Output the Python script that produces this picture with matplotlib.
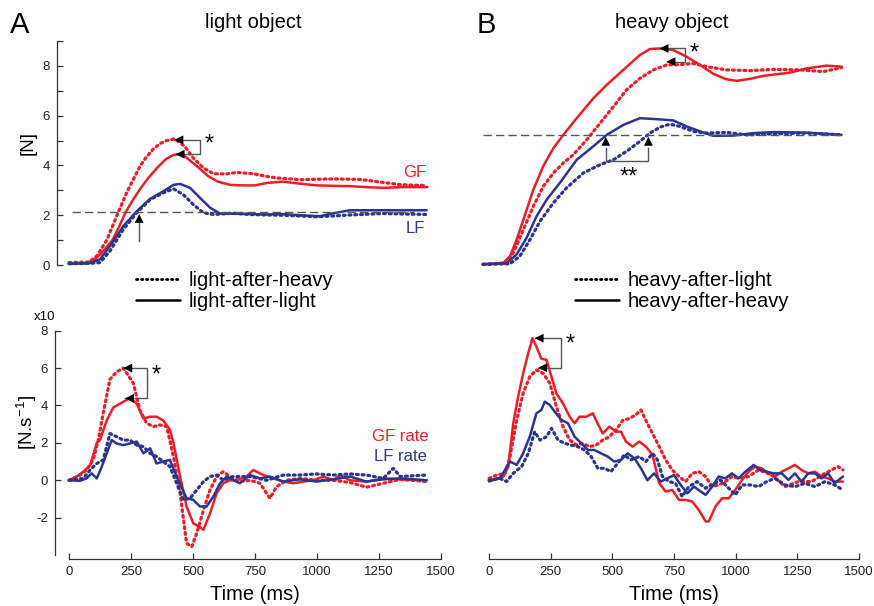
import matplotlib
matplotlib.use("Agg")
import matplotlib.pyplot as plt
from matplotlib.lines import Line2D

plt.rcParams['font.family'] = ['Liberation Sans', 'DejaVu Sans']
plt.rcParams['axes.unicode_minus'] = False

RED = '#EE1D25'
BLUE = '#2A3592'
GREY = '#555555'

# ---- A, top: forces [N] (light object) ----
tA_gf_ll = [0, 70, 100, 125, 150, 175, 200, 230, 260, 290, 320, 355, 390, 420, 440, 470, 500, 530,
            560, 600, 650, 700, 750, 800, 860, 930, 1000, 1070, 1130, 1200, 1270, 1340, 1445]
A_gf_ll = [0.07, 0.08, 0.2, 0.42, 0.7, 1.0, 1.5, 2.15, 2.65, 3.1, 3.5, 3.9, 4.25, 4.42, 4.45, 4.35,
           4.1, 3.85, 3.58, 3.35, 3.22, 3.2, 3.2, 3.3, 3.35, 3.27, 3.2, 3.18, 3.17, 3.13, 3.1, 3.13, 3.13]
tA_gf_lh = [0, 80, 112, 152, 192, 232, 260, 286, 313, 340, 367, 394, 421, 445, 470, 501, 542, 582,
            636, 676, 743, 797, 837, 931, 1066, 1173, 1267, 1335, 1442]
A_gf_lh = [0.1, 0.12, 0.36, 1.0, 1.96, 2.9, 3.45, 3.97, 4.35, 4.66, 4.88, 5.0, 5.06, 4.95, 4.72,
           4.3, 3.9, 3.67, 3.66, 3.72, 3.67, 3.56, 3.5, 3.43, 3.46, 3.44, 3.32, 3.23, 3.19]
tA_lf_ll = [0, 80, 125, 165, 219, 273, 327, 380, 421, 448, 488, 528, 569, 609, 663, 730, 797, 864,
            931, 1012, 1050, 1132, 1200, 1267, 1350, 1442]
A_lf_ll = [0.05, 0.07, 0.23, 0.76, 1.56, 2.16, 2.66, 2.96, 3.22, 3.26, 3.1, 2.7, 2.3, 2.07, 2.06,
           2.05, 2.03, 2.05, 2.0, 1.96, 2.05, 2.2, 2.2, 2.2, 2.2, 2.2]
tA_lf_lh = [0, 90, 125, 165, 219, 273, 327, 380, 421, 461, 501, 542, 582, 663, 730, 797, 864, 931,
            998, 1066, 1132, 1200, 1267, 1350, 1442]
A_lf_lh = [0.05, 0.07, 0.1, 0.56, 1.43, 2.1, 2.63, 2.9, 3.06, 2.83, 2.43, 2.1, 2.03, 2.08, 2.03,
           2.01, 2.0, 1.97, 1.94, 1.97, 2.01, 2.04, 2.07, 2.05, 2.03]
A_lf_level = 2.15

# ---- B, top: forces [N] (heavy object) ----
tB_gf_hh = [0, 82, 109, 136, 163, 203, 243, 284, 324, 378, 445, 499, 566, 633, 673, 714, 767, 821,
            875, 929, 982, 1023, 1077, 1130, 1238, 1305, 1386, 1446]
B_gf_hh = [0.03, 0.09, 0.36, 1.03, 1.83, 3.03, 3.97, 4.7, 5.23, 5.9, 6.7, 7.24, 7.84, 8.44, 8.68,
           8.7, 8.64, 8.37, 8.04, 7.68, 7.46, 7.4, 7.48, 7.6, 7.73, 7.9, 8.01, 7.97]
tB_gf_hl = [0, 95, 122, 163, 203, 243, 284, 324, 364, 418, 472, 526, 579, 633, 687, 741, 794, 848,
            902, 982, 1077, 1171, 1278, 1372, 1446]
B_gf_hl = [0.03, 0.08, 0.49, 1.43, 2.36, 3.16, 3.7, 4.1, 4.43, 5.03, 5.7, 6.37, 7.04, 7.5, 7.84,
           8.04, 8.05, 8.1, 7.97, 7.84, 7.81, 7.86, 7.84, 7.77, 7.93]
tB_lf_hh = [0, 95, 136, 176, 216, 257, 310, 378, 445, 499, 566, 633, 700, 767, 821, 875, 929, 1009,
            1090, 1171, 1305, 1446]
B_lf_hh = [0.03, 0.06, 0.43, 1.1, 1.96, 2.63, 3.3, 4.23, 4.77, 5.23, 5.63, 5.9, 5.86, 5.81, 5.57,
           5.37, 5.19, 5.2, 5.3, 5.34, 5.32, 5.23]
tB_lf_hl = [0, 109, 149, 190, 230, 284, 337, 405, 472, 526, 579, 633, 673, 714, 754, 794, 848, 902,
            982, 1063, 1171, 1305, 1446]
B_lf_hl = [0.03, 0.05, 0.36, 1.03, 1.76, 2.5, 3.1, 3.7, 4.03, 4.23, 4.57, 4.97, 5.3, 5.54, 5.66,
           5.57, 5.37, 5.3, 5.33, 5.23, 5.27, 5.3, 5.23]
B_lf_level = 5.23

# ---- A, bottom: force rates [N/s x10] ----
tA_gfr_ll = [0, 31, 58, 85, 112, 125, 152, 179, 206, 246, 273, 300, 327, 353, 380, 407, 421, 448,
             474, 501, 528, 542, 569, 595, 622, 649, 676, 716, 743, 783, 824, 864, 905, 945, 985,
             1026, 1066, 1093, 1133, 1200, 1267, 1335, 1442]
A_gfr_ll = [0, 0.2, 0.46, 0.8, 2.0, 2.15, 3.2, 3.9, 4.1, 4.4, 4.1, 3.3, 3.4, 3.4, 3.2, 2.7, 2.0,
            0.2, -1.4, -2.3, -2.5, -2.65, -1.76, -0.7, -0.16, 0, 0, 0.2, 0.55, 0.28, 0.1, -0.07,
            -0.16, -0.07, 0, 0.2, 0, 0.28, 0, -0.07, 0.1, 0.05, 0]
tA_gfr_lh = [0, 44, 71, 98, 118, 138, 165, 192, 219, 239, 259, 286, 313, 340, 367, 394, 421, 448,
             474, 495, 515, 542, 569, 595, 622, 649, 689, 730, 770, 810, 837, 878, 931, 998, 1066,
             1133, 1200, 1267, 1335, 1442]
A_gfr_lh = [0, 0.28, 0.55, 1.1, 2.15, 3.6, 5.4, 5.8, 6.0, 5.6, 5.2, 3.76, 3.05, 2.87, 2.96, 2.87,
            1.27, -0.7, -3.37, -3.55, -2.83, -1.6, -0.5, 0.2, 0.46, 0.2, -0.07, 0, -0.16, -0.96,
            -0.34, 0, 0.1, 0, 0, -0.12, -0.37, -0.16, 0.05, -0.07]
tA_lfr_ll = [0, 44, 71, 91, 112, 132, 152, 172, 192, 219, 246, 273, 300, 327, 353, 380, 407, 434,
             474, 501, 528, 555, 582, 609, 636, 663, 689, 730, 770, 810, 864, 931, 998, 1066, 1133,
             1200, 1267, 1335, 1442]
A_lfr_ll = [0, -0.03, 0.1, 0.37, 0.1, 0.73, 1.44, 2.15, 1.97, 1.88, 1.97, 2.07, 1.44, 1.71, 0.9,
            1.0, 1.09, 0.2, -0.96, -1.05, -1.4, -1.4, -0.87, -0.16, 0.2, 0, -0.16, 0.28, 0.1, 0.2,
            -0.07, 0.05, -0.07, 0.05, 0.2, -0.07, 0.05, 0.1, 0]
tA_lfr_lh = [0, 58, 85, 112, 138, 165, 192, 219, 246, 273, 300, 327, 353, 380, 407, 434, 461, 488,
             515, 542, 569, 595, 622, 663, 730, 797, 864, 931, 998, 1066, 1133, 1200, 1267, 1308,
             1335, 1442]
A_lfr_lh = [0, 0.1, 0.55, 0.9, 1.09, 2.5, 2.33, 2.15, 2.15, 1.88, 1.8, 1.44, 1.27, 1.0, 0.73,
            -0.16, -1.05, -0.96, -0.52, -0.07, 0.2, 0.28, 0, 0.2, 0.2, 0, 0.28, 0.28, 0.34, 0.28,
            0.34, 0.28, 0.1, 0.64, 0.2, 0.28]

# ---- B, bottom: force rates [N/s x10] ----
tB_gfr_hh = [0, 58, 78, 98, 118, 138, 159, 176, 192, 212, 233, 253, 273, 300, 327, 347, 367, 394,
             421, 434, 461, 488, 515, 535, 555, 582, 609, 636, 663, 690, 716, 743, 770, 797, 824,
             851, 878, 891, 918, 945, 972, 999, 1026, 1052, 1079, 1106, 1132, 1160, 1187, 1214,
             1240, 1267, 1294, 1321, 1348, 1375, 1401, 1435]
B_gfr_hh = [-0.07, 0.2, 0.73, 3.05, 4.47, 5.7, 6.8, 7.6, 7.15, 6.5, 6.44, 5.54, 4.65, 4.1, 3.4,
            3.05, 3.4, 3.4, 3.58, 3.2, 2.5, 2.87, 2.6, 2.6, 2.07, 1.8, 2.07, 1.8, 1.35, -0.16, -0.6,
            -0.52, -1.05, -1.05, -1.14, -1.6, -2.2, -2.2, -1.4, -0.96, -0.96, -0.5, 0.02, 0.46,
            0.73, 0.64, 0.37, 0.2, 0.46, 0.64, 0.82, 0.55, 0.37, 0.46, 0.2, 0.1, -0.07, -0.07]
tB_gfr_hl = [0, 31, 65, 85, 112, 138, 165, 192, 219, 246, 273, 300, 327, 353, 380, 407, 434, 461,
             488, 515, 542, 568, 595, 616, 636, 663, 690, 716, 743, 770, 797, 824, 851, 878, 905,
             931, 958, 985, 1012, 1052, 1093, 1147, 1200, 1254, 1308, 1362, 1415, 1435]
B_gfr_hl = [0.1, 0.28, 0.37, 1.27, 3.2, 4.65, 5.54, 5.9, 5.72, 5.2, 3.94, 2.87, 2.15, 1.9, 1.97,
            1.8, 1.88, 2.15, 2.33, 2.7, 3.2, 3.3, 3.5, 3.76, 3.2, 2.5, 1.8, 1.09, 0.55, 0.2, -0.07,
            0.37, 0.46, 0.2, -0.34, -0.25, -0.07, 0.2, 0.1, 0.2, 0.55, 0.28, -0.34, -0.07, -0.07,
            0.37, 0.73, 0.55]
tB_lfr_hh = [0, 44, 85, 112, 138, 165, 192, 212, 226, 246, 266, 293, 320, 347, 374, 401, 427, 454,
             481, 508, 535, 562, 589, 616, 642, 669, 696, 723, 750, 777, 804, 831, 858, 878, 905,
             931, 958, 985, 1012, 1039, 1073, 1099, 1126, 1153, 1187, 1214, 1240, 1267, 1294, 1321,
             1348, 1375, 1401, 1435]
B_lfr_hh = [0, 0.1, 1.0, 0.82, 1.44, 2.33, 3.58, 3.76, 4.2, 4.03, 3.67, 3.23, 3.05, 2.33, 1.98,
            1.62, 1.62, 1.44, 1.27, 1.0, 1.09, 1.44, 1.18, 0.64, 0, 0.37, -0.07, 0.1, 0.28, -0.25,
            -0.7, -0.34, -0.6, -0.78, -0.34, 0.2, 0.1, 0.37, 0.1, 0.46, 0.82, 0.55, 0.46, 0.37,
            0.37, 0.02, 0.37, -0.07, 0.37, 0.37, 0.1, 0.37, -0.16, 0.2]
tB_lfr_hl = [0, 44, 71, 98, 132, 159, 185, 206, 233, 253, 280, 306, 333, 360, 387, 414, 441, 468,
             494, 521, 548, 575, 609, 636, 663, 683, 703, 730, 756, 783, 810, 844, 878, 905, 938,
             972, 999, 1026, 1059, 1093, 1126, 1160, 1200, 1240, 1281, 1321, 1362, 1401, 1435]
B_lfr_hl = [0, 0.1, -0.07, 0.37, 0.73, 1.44, 2.6, 2.15, 2.33, 2.78, 2.15, 1.98, 1.88, 1.8, 1.62,
            1.27, 0.64, 0.64, 0.46, 0.9, 1.35, 1.09, 1.27, 1.0, 1.44, 1.09, 0.2, -0.07, -0.16,
            -0.87, -0.34, -0.07, -0.43, -0.25, 0.02, -0.43, -0.78, -0.25, -0.25, -0.34, -0.07, 0.1,
            -0.25, -0.34, -0.16, -0.34, -0.07, -0.25, -0.52]

W, H = 874, 606
fig = plt.figure(figsize=(W / 100, H / 100), dpi=100)


def box(l, t, r, b):
    return [l / W, 1 - b / H, (r - l) / W, (b - t) / H]


def px(x, y):
    return x / W, 1 - y / H


axA1 = fig.add_axes(box(57, 41, 441, 272.5))
axB1 = fig.add_axes(box(471, 41, 855, 272.5))
axA2 = fig.add_axes(box(55, 330.7, 441, 558.8))
axB2 = fig.add_axes(box(475, 330.7, 859, 558.8))

for ax in (axA1, axB1):
    ax.set_xlim(-48.4, 1500)
    ax.set_ylim(-0.3, 9)
axA2.set_xlim(-56.5, 1500)
axB2.set_xlim(-57, 1500)
for ax in (axA2, axB2):
    ax.set_ylim(-4.2, 8)

for ax in (axA1, axB1, axA2, axB2):
    ax.patch.set_visible(False)
    for s in ('top', 'right'):
        ax.spines[s].set_visible(False)
    for s in ax.spines.values():
        s.set_color('#333333')
        s.set_linewidth(0.9)
    ax.tick_params(direction='in', length=4, width=0.9, color='#333333',
                   labelsize=9.5, labelcolor='#222222', pad=5)

# top axes: y only on A
axA1.spines['bottom'].set_visible(False)
axA1.set_xticks([])
axA1.spines['left'].set_bounds(0, 9)
axA1.set_yticks(range(0, 10))
axA1.set_yticklabels([str(v) if v % 2 == 0 and v < 9 else '' for v in range(0, 10)])
axB1.axis('off')

for ax in (axA2, axB2):
    ax.spines['bottom'].set_bounds(0, 1500)
    ax.set_xticks(range(0, 1501, 250))
axA2.spines['left'].set_bounds(-4, 8)
axA2.set_yticks([-2, 0, 2, 4, 6, 8])
axB2.spines['left'].set_visible(False)
axB2.set_yticks([])

solid = dict(lw=1.8, solid_capstyle='round')
dotted = dict(lw=2.3, linestyle=(0, (0.6, 1.2)), dash_capstyle='round')

axA1.plot(tA_gf_lh, A_gf_lh, color=RED, **dotted)
axA1.plot(tA_gf_ll, A_gf_ll, color=RED, **solid)
axA1.plot(tA_lf_lh, A_lf_lh, color=BLUE, **dotted)
axA1.plot(tA_lf_ll, A_lf_ll, color=BLUE, **solid)
axA1.axhline(A_lf_level, xmin=0.04, xmax=0.93, color=GREY, lw=1, linestyle=(0, (6, 3)))

axB1.plot(tB_gf_hl, B_gf_hl, color=RED, **dotted)
axB1.plot(tB_gf_hh, B_gf_hh, color=RED, **solid)
axB1.plot(tB_lf_hl, B_lf_hl, color=BLUE, **dotted)
axB1.plot(tB_lf_hh, B_lf_hh, color=BLUE, **solid)
axB1.axhline(B_lf_level, xmin=0.03, xmax=0.965, color=GREY, lw=1, linestyle=(0, (6, 3)))

axA2.plot(tA_gfr_lh, A_gfr_lh, color=RED, **dotted)
axA2.plot(tA_gfr_ll, A_gfr_ll, color=RED, **solid)
axA2.plot(tA_lfr_lh, A_lfr_lh, color=BLUE, **dotted)
axA2.plot(tA_lfr_ll, A_lfr_ll, color=BLUE, **solid)

axB2.plot(tB_gfr_hl, B_gfr_hl, color=RED, **dotted)
axB2.plot(tB_gfr_hh, B_gfr_hh, color=RED, **solid)
axB2.plot(tB_lfr_hl, B_lfr_hl, color=BLUE, **dotted)
axB2.plot(tB_lfr_hh, B_lfr_hh, color=BLUE, **solid)

arrow = dict(arrowstyle='-|>', color='black', lw=0, mutation_scale=16, shrinkA=0, shrinkB=0)


def left_bracket(ax, xb, y1, x1, y2, x2, star_x, star_y, star='*'):
    ax.plot([x1, xb, xb, x2], [y1, y1, y2, y2], color=GREY, lw=1)
    ax.annotate('', xy=(x1, y1), xytext=(x1 + 60, y1), arrowprops=arrow)
    ax.annotate('', xy=(x2, y2), xytext=(x2 + 60, y2), arrowprops=arrow)
    ax.text(star_x, star_y, star, fontsize=17, ha='center', va='center')


left_bracket(axA1, 528, 5.03, 425, 4.45, 430, 566, 4.85)
left_bracket(axB1, 815, 8.7, 712, 8.17, 740, 852, 8.5)
left_bracket(axA2, 313, 6.0, 219, 4.38, 226, 353, 5.6)
left_bracket(axB2, 293, 7.6, 185, 6.02, 199, 330, 7.25)

# upward arrows marking LF crossing of the load level
axA1.plot([283, 283], [0.95, 1.7], color=GREY, lw=1)
axA1.annotate('', xy=(283, 2.05), xytext=(283, 1.6), arrowprops=arrow)
axB1.plot([495, 495, 667, 667], [4.7, 4.17, 4.17, 4.7], color=GREY, lw=1)
axB1.annotate('', xy=(495, 5.15), xytext=(495, 4.7), arrowprops=arrow)
axB1.annotate('', xy=(667, 5.15), xytext=(667, 4.7), arrowprops=arrow)
axB1.text(586, 3.5, '**', fontsize=17, ha='center', va='center')

axA1.text(1395, 3.7, 'GF', color=RED, fontsize=12, ha='center', va='center')
axA1.text(1395, 1.45, 'LF', color=BLUE, fontsize=12, ha='center', va='center')
axA2.text(1335, 2.33, 'GF rate', color=RED, fontsize=12, ha='center', va='center')
axA2.text(1335, 1.27, 'LF rate', color=BLUE, fontsize=12, ha='center', va='center')

fig.text(*px(253, 23), 'light object', fontsize=14.5, ha='center', va='center')
fig.text(*px(672, 23), 'heavy object', fontsize=14.5, ha='center', va='center')
fig.text(*px(20, 25), 'A', fontsize=21, ha='center', va='center')
fig.text(*px(486, 25), 'B', fontsize=21, ha='center', va='center')
fig.text(*px(28, 143), '[N]', fontsize=13.5, rotation=90, ha='center', va='center')
fig.text(*px(27, 423), '[N.s$^{\\mathregular{-1}}$]', fontsize=13.5, rotation=90,
         ha='center', va='center')
fig.text(*px(45, 317), 'x10', fontsize=9.5, ha='center', va='center')
fig.text(*px(255, 595), 'Time (ms)', fontsize=14.5, ha='center', va='center')
fig.text(*px(674, 595), 'Time (ms)', fontsize=14.5, ha='center', va='center')

h_dot = Line2D([], [], color='black', lw=2.0, linestyle=(0, (0.5, 1.3)), dash_capstyle='round')
h_sol = Line2D([], [], color='black', **solid)
leg_kw = dict(loc='center left', frameon=False, fontsize=14.5, handlelength=2.2,
              handletextpad=0.4, labelspacing=0.08, borderpad=0, borderaxespad=0)
fig.legend([h_dot, h_sol], ['light-after-heavy', 'light-after-light'],
           bbox_to_anchor=px(136, 291), **leg_kw)
fig.legend([h_dot, h_sol], ['heavy-after-light', 'heavy-after-heavy'],
           bbox_to_anchor=px(575, 291), **leg_kw)

fig.savefig('out.png', dpi=100)
